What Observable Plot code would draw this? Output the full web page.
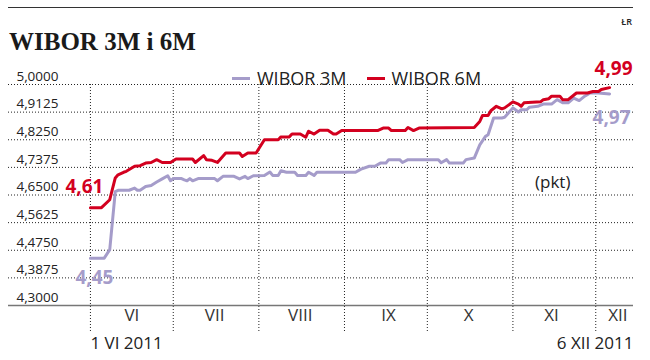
<!DOCTYPE html>
<html><head><meta charset="utf-8">
<script src="https://cdn.jsdelivr.net/npm/d3@7"></script>
<script src="https://cdn.jsdelivr.net/npm/@observablehq/plot@0.6"></script>
<style>
body{margin:0;background:#fff;font-family:"Open Sans",sans-serif;}
#wrap{position:relative;width:650px;height:360px;overflow:hidden;background:#fff;}
#rule{position:absolute;left:8px;top:7px;width:625px;height:0;border-top:1.5px solid #333;}
#lr{position:absolute;right:18px;top:15px;font-size:9px;color:#222;font-weight:600;}
#title{position:absolute;left:9px;top:29px;font:bold 25px/25px "Liberation Serif",serif;color:#1a1a1a;white-space:nowrap;}
#chart{position:absolute;left:0;top:60px;}
#legend{position:absolute;left:232px;top:69px;font-size:18px;line-height:18px;color:#222;display:flex;align-items:center;white-space:nowrap;}
#legend .sw{display:inline-block;width:18px;height:3px;margin-right:7px;}
#legend .it{display:flex;align-items:center;margin-right:20px;}
#pkt{position:absolute;left:535px;top:173px;font-size:17px;line-height:17px;color:#222;}
</style>
</head><body>
<div id="wrap">
  <div id="rule"></div>
  <div id="lr">ŁR</div>
  <div id="title">WIBOR 3M i 6M</div>
  <div id="chart"></div>
  <div id="legend"></div>
  <div id="pkt">(pkt)</div>
</div>
<script>
const seriesNames = ["WIBOR 3M", "WIBOR 6M"];
const seriesColors = ["#a59cca", "#d3001f"];
const months = ["VI","VII","VIII","IX","X","XI","XII"];
const monthStarts = ["2011-06-01","2011-07-01","2011-08-01","2011-09-01","2011-10-01","2011-11-01","2011-12-01"];
const monthLabelAt = ["2011-06-16","2011-07-16","2011-08-16","2011-09-17","2011-10-16","2011-11-15","2011-12-09"];
const yTicks = [4.3, 4.3875, 4.475, 4.5625, 4.65, 4.7375, 4.825, 4.9125, 5.0];
const startLabel = "1 VI 2011";
const endLabel = "6 XII 2011";

const dates3M = ["2011-06-01","2011-06-06","2011-06-08","2011-06-10","2011-06-11","2011-06-15","2011-06-17","2011-06-18","2011-06-19","2011-06-21","2011-06-23","2011-06-25","2011-06-27","2011-06-29","2011-06-30",
"2011-07-01","2011-07-04","2011-07-05","2011-07-06","2011-07-07","2011-07-08","2011-07-10","2011-07-16","2011-07-17","2011-07-19","2011-07-23","2011-07-25","2011-07-27","2011-07-28","2011-07-30",
"2011-08-03","2011-08-05","2011-08-06","2011-08-08","2011-08-09","2011-08-11","2011-08-14","2011-08-15","2011-08-18","2011-08-19","2011-08-21","2011-08-22",
"2011-09-05","2011-09-07","2011-09-10","2011-09-12","2011-09-14","2011-09-16","2011-09-17","2011-09-21","2011-09-22","2011-09-24",
"2011-10-05","2011-10-06","2011-10-08","2011-10-09","2011-10-14","2011-10-15","2011-10-18","2011-10-20","2011-10-22","2011-10-23","2011-10-25","2011-10-28","2011-10-29",
"2011-11-01","2011-11-03","2011-11-04","2011-11-06","2011-11-07","2011-11-10","2011-11-12","2011-11-15","2011-11-17","2011-11-19","2011-11-21","2011-11-23","2011-11-25","2011-11-27","2011-11-29",
"2011-12-02","2011-12-06"];
const wibor3M = [4.45,4.45,4.477,4.661,4.665,4.665,4.672,4.665,4.665,4.677,4.680,4.691,4.701,4.711,4.695,
4.702,4.702,4.698,4.695,4.702,4.695,4.702,4.702,4.695,4.709,4.709,4.701,4.709,4.702,4.711,
4.712,4.723,4.712,4.712,4.727,4.722,4.722,4.712,4.712,4.722,4.712,4.722,
4.722,4.732,4.741,4.741,4.751,4.751,4.762,4.762,4.753,4.762,
4.762,4.752,4.762,4.751,4.751,4.762,4.767,4.809,4.835,4.841,4.894,4.894,4.896,
4.926,4.913,4.920,4.920,4.928,4.931,4.938,4.938,4.952,4.942,4.942,4.957,4.949,4.963,4.973,
4.973,4.97];

const dates6M = ["2011-06-01","2011-06-05","2011-06-08","2011-06-10","2011-06-11","2011-06-13","2011-06-14","2011-06-17","2011-06-19","2011-06-21","2011-06-23","2011-06-25","2011-06-27","2011-06-30",
"2011-07-02","2011-07-08","2011-07-09","2011-07-12","2011-07-13","2011-07-15","2011-07-17","2011-07-20","2011-07-25","2011-07-26","2011-07-28","2011-07-31",
"2011-08-03","2011-08-08","2011-08-09","2011-08-12","2011-08-13","2011-08-16","2011-08-18","2011-08-19","2011-08-21","2011-08-23","2011-08-26","2011-08-28","2011-08-29","2011-08-31",
"2011-09-13","2011-09-15","2011-09-17","2011-09-18","2011-09-23","2011-09-24","2011-09-26","2011-09-28",
"2011-10-18","2011-10-20","2011-10-21","2011-10-23","2011-10-24","2011-10-26","2011-10-28","2011-10-29",
"2011-11-01","2011-11-03","2011-11-04","2011-11-05","2011-11-11","2011-11-12","2011-11-14","2011-11-15","2011-11-18","2011-11-19","2011-11-21","2011-11-23","2011-11-24","2011-11-28","2011-11-30",
"2011-12-02","2011-12-03","2011-12-06"];
const wibor6M = [4.61,4.61,4.635,4.704,4.714,4.722,4.725,4.741,4.743,4.751,4.753,4.762,4.753,4.753,
4.764,4.764,4.753,4.775,4.762,4.760,4.753,4.783,4.783,4.772,4.783,4.783,
4.825,4.825,4.834,4.834,4.843,4.843,4.833,4.852,4.843,4.855,4.855,4.843,4.843,4.854,
4.854,4.862,4.862,4.854,4.854,4.864,4.854,4.862,
4.864,4.883,4.902,4.902,4.917,4.931,4.923,4.926,
4.945,4.938,4.931,4.942,4.945,4.952,4.955,4.963,4.963,4.952,4.952,4.966,4.973,4.973,4.978,
4.978,4.984,4.99];

const rows3M = dates3M.map((d, i) => ({date: new Date(d), value: wibor3M[i]}));
const rows6M = dates6M.map((d, i) => ({date: new Date(d), value: wibor6M[i]}));
const fmt4 = d => d.toFixed(4).replace(".", ",");
const fmt2 = d => d.value.toFixed(2).replace(".", ",");
const c3 = seriesColors[0], c6 = seriesColors[1];

const chart = Plot.plot({
  width: 650, height: 300,
  marginLeft: 8, marginRight: 17, marginTop: 24, marginBottom: 55,
  x: {type: "utc", domain: [new Date(Date.UTC(2011,4,2,8)), new Date(Date.UTC(2011,11,14,16))], axis: null},
  y: {domain: [4.3, 5.0], axis: null},
  style: {fontFamily: "Open Sans", background: "transparent", overflow: "visible"},
  marks: [
    Plot.ruleY(yTicks.slice(1), {stroke: "#222", strokeWidth: 1, strokeDasharray: "1,2"}),
    Plot.ruleX(monthStarts.map(d => new Date(d)), {stroke: "#222", strokeWidth: 1, strokeDasharray: "1,2", insetBottom: -27}),
    Plot.ruleY([yTicks[0]], {stroke: "#777", strokeWidth: 1.5}),
    Plot.text(yTicks, {y: d => d, text: fmt4, frameAnchor: "left", dx: 50, dy: -8, textAnchor: "end", fontSize: 13.5, fill: "#222"}),
    Plot.text(monthLabelAt, {x: d => new Date(d), text: (d, i) => months[i], frameAnchor: "bottom", dy: 15, fontSize: 17, fill: "#333"}),
    Plot.text([startLabel], {x: [new Date(monthStarts[0])], text: d => d, frameAnchor: "bottom", dy: 43, textAnchor: "start", fontSize: 17, fill: "#222"}),
    Plot.text([endLabel], {text: d => d, frameAnchor: "bottom-right", dy: 43, textAnchor: "end", fontSize: 17, fill: "#222"}),
    Plot.line(rows3M, {x: "date", y: "value", stroke: c3, strokeWidth: 3}),
    Plot.line(rows6M, {x: "date", y: "value", stroke: c6, strokeWidth: 3}),
    Plot.text([rows6M[0]], {x: "date", y: "value", text: fmt2, dx: 13, dy: -21, textAnchor: "end", fill: c6, fontWeight: "bold", fontSize: 19}),
    Plot.text([rows3M[0]], {x: "date", y: "value", text: fmt2, dx: -15, dy: 20, textAnchor: "start", fill: c3, fontWeight: "bold", fontSize: 19}),
    Plot.text([rows6M[rows6M.length-1]], {x: "date", y: "value", text: fmt2, dx: 23, dy: -19, textAnchor: "end", fill: c6, fontWeight: "bold", fontSize: 19}),
    Plot.text([rows3M[rows3M.length-1]], {x: "date", y: "value", text: fmt2, dx: 21, dy: 24, textAnchor: "end", fill: c3, fontWeight: "bold", fontSize: 19})
  ]
});
document.getElementById("chart").appendChild(chart);

const legend = document.getElementById("legend");
seriesNames.forEach((n, i) => {
  const it = document.createElement("span"); it.className = "it";
  const sw = document.createElement("span"); sw.className = "sw"; sw.style.background = seriesColors[i];
  it.appendChild(sw); it.appendChild(document.createTextNode(n));
  legend.appendChild(it);
});
</script>
</body></html>
